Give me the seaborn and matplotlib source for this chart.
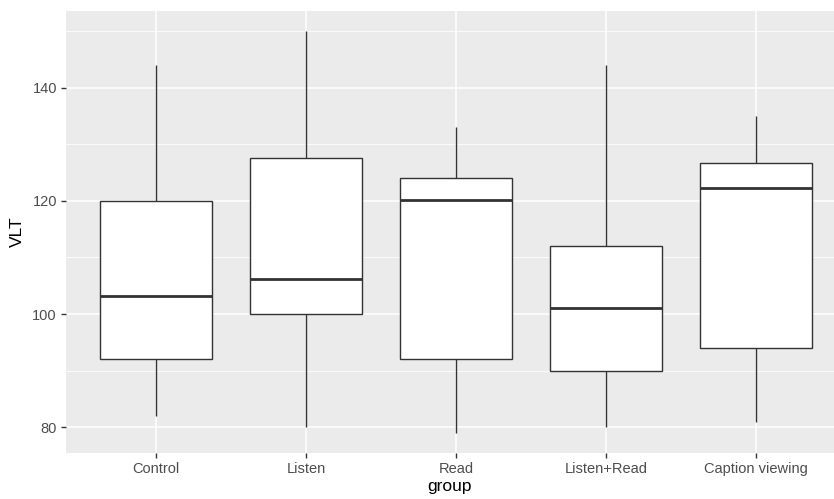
import numpy as np
import pandas as pd
import matplotlib.pyplot as plt
from matplotlib.ticker import MultipleLocator
import seaborn as sns

groups = ["Control", "Listen", "Read", "Listen+Read", "Caption viewing"]
# five-number summary per group: min, q1, median, q3, max
vlt_min = [82, 80, 79, 80, 81]
vlt_q1 = [92, 100, 92, 90, 94]
vlt_med = [103.2, 106.2, 120.1, 101.1, 122.3]
vlt_q3 = [120, 127.5, 124, 112, 126.7]
vlt_max = [144, 150, 133, 144, 135]

rows = []
for i, g in enumerate(groups):
    for v in (vlt_min[i], vlt_q1[i], vlt_med[i], vlt_q3[i], vlt_max[i]):
        rows.append({"group": g, "VLT": v})
df = pd.DataFrame(rows)

plt.rcParams['font.family'] = ['Liberation Sans', 'DejaVu Sans']
fig = plt.figure(figsize=(8.34, 4.99), dpi=100)
# the panel runs off the right edge of the picture
ax = fig.add_axes([66/834, 46/499, 768/834, 442/499])
ax.set_facecolor("#EBEBEB")

sns.boxplot(data=df, x="group", y="VLT", order=groups, ax=ax, width=0.75,
            whis=np.inf, showcaps=False, color="white", linecolor="#333333",
            linewidth=1, medianprops={"linewidth": 2, "color": "#333333"},
            zorder=3)
for p in ax.patches:
    p.set_facecolor("white")

ax.set_xlim(-0.6, 4.52)
ax.set_ylim(75.45, 153.55)
ax.yaxis.set_major_locator(MultipleLocator(20))
ax.yaxis.set_minor_locator(MultipleLocator(10))
ax.grid(True, which="major", color="white", linewidth=1.1, zorder=0)
ax.grid(True, which="minor", axis="y", color="white", linewidth=0.55, zorder=0)
ax.set_axisbelow(True)
for s in ax.spines.values():
    s.set_visible(False)
ax.tick_params(which="major", length=3.5, width=1, color="#333333",
               labelcolor="#4D4D4D", labelsize=10.5, pad=3)
ax.tick_params(which="minor", length=0)
ax.set_xlabel("group", fontsize=12.5, color="black", labelpad=2)
ax.set_ylabel("VLT", fontsize=12.5, color="black", labelpad=5)

fig.savefig("out.png", dpi=100)
